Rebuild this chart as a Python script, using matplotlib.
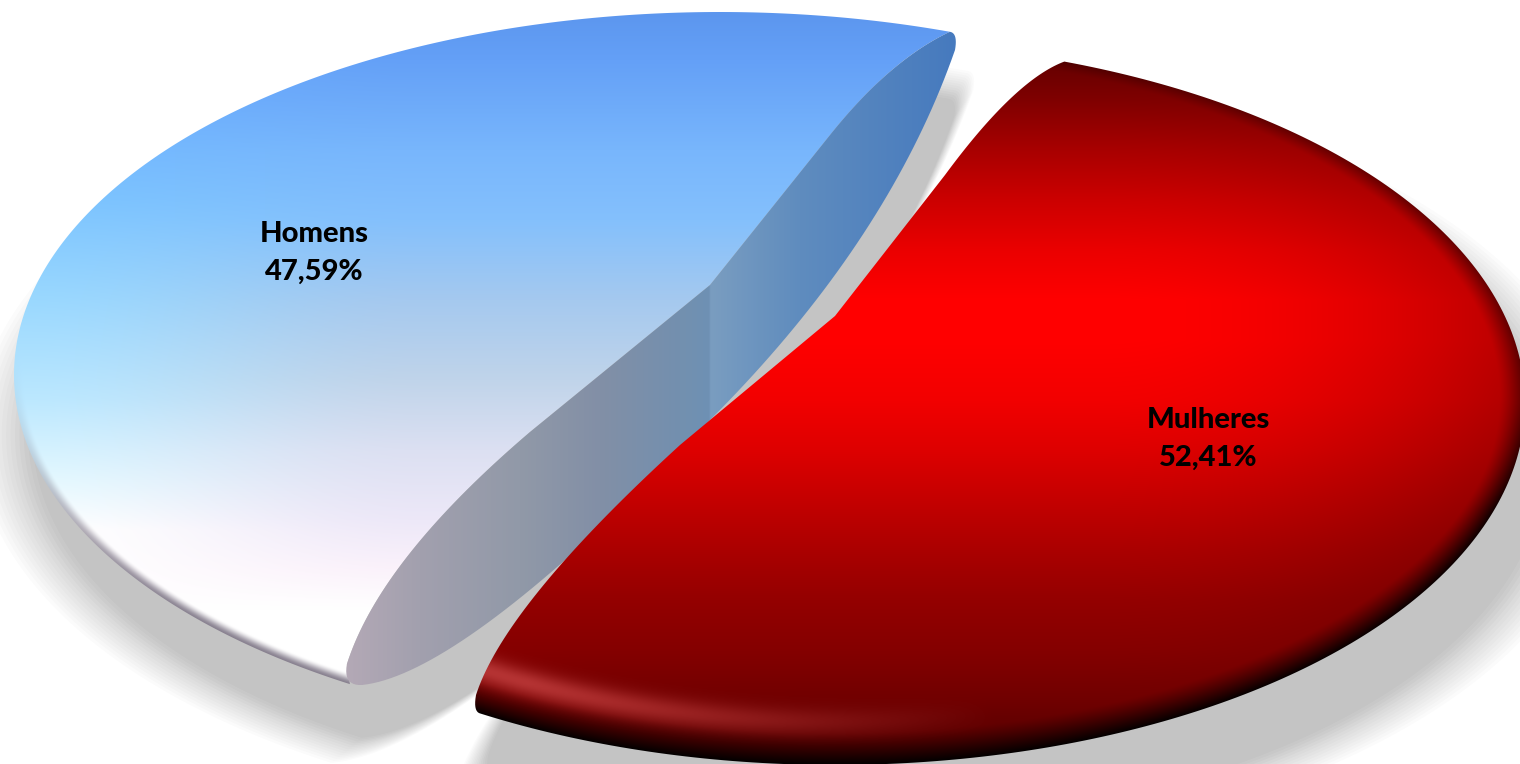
import numpy as np
import matplotlib
matplotlib.use("Agg")
import matplotlib.pyplot as plt
from matplotlib.patches import Polygon
from matplotlib.colors import to_rgb

# ---- data ----
categories = ["Homens", "Mulheres"]
shares = [47.59, 52.41]

# ---- style / projection parameters ----
W, H = 1520, 764
foreshorten = [0.977, 1.015]
start_angle = 71.0
blue_c, blue_r = (720, 375), (706, 363)
red_c, red_r = (835, 403), (690, 362)
blue_apex, blue_low = np.array([710, 285.]), np.array([710, 420.])
red_apex = np.array([835, 316.])
label_pos = [(314, 253), (1208, 439)]

sweeps = [3.6 * v * f for v, f in zip(shares, foreshorten)]
blue_a0, blue_a1 = start_angle, start_angle + sweeps[0]
red_a0 = blue_a1 + 0.7
red_a1 = red_a0 + sweeps[1]


def rim(c, r, a0, a1, n=240):
    t = np.radians(np.linspace(a0, a1, n))
    return np.c_[c[0] + r[0] * np.cos(t), c[1] - r[1] * np.sin(t)]


def quad(p0, c, p1, n=40):
    t = np.linspace(0, 1, n)[:, None]
    p0, c, p1 = map(lambda p: np.asarray(p, float), (p0, c, p1))
    return (1 - t) ** 2 * p0 + 2 * t * (1 - t) * c + t ** 2 * p1


def smooth(e0, e1, v):
    x = np.clip((v - e0) / (e1 - e0), 0, 1)
    return x * x * (3 - 2 * x)


def vgrad(stops, q):
    xs = [s[0] for s in stops]
    cols = np.array([to_rgb(s[1]) for s in stops])
    return np.stack([np.interp(q, xs, cols[:, i]) for i in range(3)], -1)


# ---- outlines -------------------------------------------------------
brim = rim(blue_c, blue_r, blue_a0, blue_a1)
b_tail = brim[-1] + (-3, -20)
b_top_edge = np.vstack([[blue_apex], quad((830, 135), (890, 60), brim[0])])
b_left_edge = np.vstack([quad(b_tail, (380, 560), (530, 432)), [blue_apex]])
blue_outline = np.vstack([b_top_edge, brim, b_left_edge])

tip_r = np.vstack([quad(brim[0], (958, 33), (955, 50), 12),
                   quad((955, 50), (888, 242), blue_low)])
tip_l = np.vstack([quad(blue_low, (465, 674), (362, 685)),
                   quad((362, 685), (343, 686), b_tail, 12)])
right_face = np.vstack([b_top_edge, tip_r, [blue_apex]])
left_face = np.vstack([[blue_apex], tip_l, b_left_edge])
blue_full = np.vstack([brim, quad(brim[-1], (465, 674), blue_low), tip_r[::-1]])

rrim = rim(red_c, red_r, red_a0, red_a1)
r_top_edge = np.vstack([quad(rrim[-1], (1015, 80), (945, 175)), [red_apex]])
r_left_edge = np.vstack([[red_apex], quad((680, 445), (505, 605), (476, 695)),
                         quad((476, 695), (473, 712), rrim[0], 10)])
red_outline = np.vstack([r_left_edge, rrim, r_top_edge])

# ---- pixel grids for the fills ---------------------------------------
X, Y = np.meshgrid(np.arange(W) + .5, np.arange(H) + .5)


def rim_distance(c, r):
    dx, dy = (X - c[0]) / r[0], (Y - c[1]) / r[1]
    rr = np.hypot(dx, dy) + 1e-6
    g = np.hypot(dx / rr / r[0], dy / rr / r[1])
    ang = np.degrees(np.arctan2(-dy, dx)) % 360
    return (1 - rr) / g, ang


# blue surface
mid = vgrad([(12, "#5C96EE"), (60, "#64A0F7"), (150, "#78B6FC"), (220, "#84C0FC"),
             (300, "#A5C9EF"), (380, "#C0D4EA"), (450, "#DCE0F2"), (520, "#EDE8F8"),
             (570, "#FBF2FB"), (610, "#FFFFFF"), (700, "#FFFFFF")], Y)
side = vgrad([(100, "#6CB0FF"), (200, "#7CC4FF"), (300, "#9AD8FF"), (400, "#BCE8FF"),
              (480, "#E4F8FF"), (530, "#FFFFFF"), (700, "#FFFFFF")], Y)
w = (1 - smooth(20, 420, X))[..., None]
blue_img = mid * (1 - w) + side * w
d, ang = rim_distance(blue_c, blue_r)
bev = (1 - smooth(0, 11, d)) * smooth(175, 225, ang) * (ang < 300)
bev = bev[..., None] * 0.72
blue_img = blue_img * (1 - bev) + np.array([.36, .32, .40]) * bev

# blue cut faces
face_left = vgrad([(345, "#B4A9B6"), (420, "#A2A0AE"), (520, "#9199A8"), (600, "#828FA6"),
                   (680, "#7390AF"), (709, "#6E91B4"), (711, "#7A9DC0"), (800, "#5F8CBE"),
                   (955, "#467ABE")], X)

# red surface
val = np.interp(Y, [55, 100, 150, 200, 250, 300, 340, 400, 450, 500, 550, 600, 650, 700, 764],
                [.38, .50, .66, .80, .92, 1, 1, .95, .87, .77, .67, .58, .52, .44, .30])
val = val * (1 - .28 * np.clip((X - 1100) / 420, 0, 1) ** 2)
d, ang = rim_distance(red_c, red_r)
sin_a = np.sin(np.radians(ang))
red_img = np.zeros((H, W, 3))
red_img[..., 0] = val
hl = np.exp(-((d - 43) / 14.0) ** 2) * np.clip((285 - ang) / 45, 0, 1) * (ang > 200)
red_img = red_img * (1 - hl[..., None] * .95) + np.array([.72, .21, .21]) * hl[..., None] * .95
strength = np.interp(sin_a, [-1, -.3, 0, .5, 1], [.97, .9, .5, .45, .2])
width = np.interp(sin_a, [-1, 0, 1], [32, 26, 10])
bev = (1 - np.clip(d / width, 0, 1)) ** 1.3 * strength
red_img = red_img * (1 - bev[..., None])

# ---- figure ----------------------------------------------------------
fig = plt.figure(figsize=(W / 100, H / 100), dpi=100, facecolor="white")
ax = fig.add_axes([0, 0, 1, 1])
ax.set_xlim(0, W)
ax.set_ylim(H, 0)
ax.axis("off")


def shadow(outline, centre, offset, scale, zorder=1, n=14, blur=0.04, depth=0.215):
    cum_prev = 0.0
    for k in range(1, n + 1):
        s = scale * (1 + blur * (1 - 2 * (k - 1) / (n - 1)))
        cum = depth * k / n
        a = 1 - (1 - cum) / (1 - cum_prev)
        cum_prev = cum
        pts = (outline - centre) * s + centre + offset
        ax.add_patch(Polygon(pts, closed=True, fc="black", ec="none", alpha=a, zorder=zorder))


shadow(blue_full, np.array(blue_c), np.array([4, 60]), 1.02)
shadow(red_outline, np.array(red_c), np.array([15, 58]), 1.05)


def fill(img, outline, zorder):
    im = ax.imshow(np.clip(img, 0, 1), extent=(0, W, H, 0), origin="upper",
                   aspect="auto", zorder=zorder, interpolation="bilinear")
    p = Polygon(outline, closed=True, transform=ax.transData, fc="none", ec="none")
    ax.add_patch(p)
    im.set_clip_path(p)
    return im


fill(blue_img, blue_outline, 2)
fill(face_left, left_face, 3)
fill(face_left, right_face, 3)
fill(red_img, red_outline, 4)

ax.set_xlim(0, W)
ax.set_ylim(H, 0)

for cat, v, (x, y) in zip(categories, shares, label_pos):
    ax.text(x, y, f"{cat}\n{v:.2f}%".replace(".", ","), ha="center", va="center",
            family="Lato", weight=900, fontsize=21, color="black",
            linespacing=1.58, zorder=6)

fig.savefig("out.png", dpi=100)
